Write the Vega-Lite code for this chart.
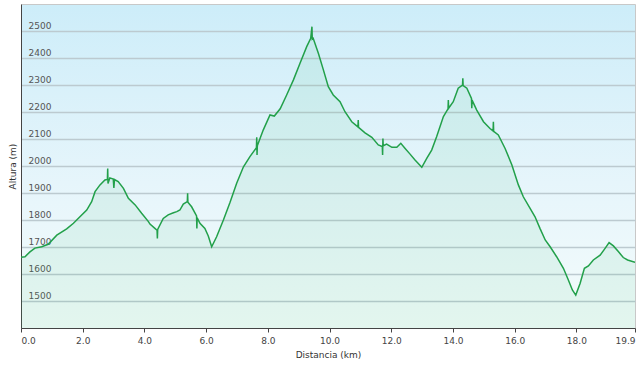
{
  "$schema": "https://vega.github.io/schema/vega-lite/v6.json",
  "width": 614,
  "height": 324,
  "autosize": "none",
  "padding": {"left": 21, "top": 4, "right": 5, "bottom": 39},
  "background": "white",
  "config": {
    "view": {
      "stroke": "#c8c8c8",
      "strokeWidth": 1,
      "fill": {
        "gradient": "linear", "x1": 0, "y1": 0, "x2": 0, "y2": 1,
        "stops": [
          {"offset": 0, "color": "#cdedf9"},
          {"offset": 0.55, "color": "#e6f5fb"},
          {"offset": 1, "color": "#f4fcfb"}
        ]
      }
    },
    "font": "DejaVu Sans"
  },
  "datasets": {
    "perfil": [
      {"km": 0.00, "alt": 1662}, {"km": 0.13, "alt": 1664}, {"km": 0.29, "alt": 1682}, {"km": 0.45, "alt": 1696},
      {"km": 0.67, "alt": 1701}, {"km": 0.88, "alt": 1710}, {"km": 1.16, "alt": 1744}, {"km": 1.48, "alt": 1767},
      {"km": 1.70, "alt": 1788}, {"km": 1.91, "alt": 1812}, {"km": 2.13, "alt": 1837}, {"km": 2.29, "alt": 1868},
      {"km": 2.40, "alt": 1905}, {"km": 2.56, "alt": 1930}, {"km": 2.72, "alt": 1948}, {"km": 2.80, "alt": 1950},
      {"km": 2.81, "alt": 1991}, {"km": 2.82, "alt": 1935}, {"km": 2.88, "alt": 1956}, {"km": 2.99, "alt": 1952},
      {"km": 3.01, "alt": 1919}, {"km": 3.03, "alt": 1950}, {"km": 3.15, "alt": 1942}, {"km": 3.32, "alt": 1917},
      {"km": 3.48, "alt": 1880}, {"km": 3.70, "alt": 1856}, {"km": 3.91, "alt": 1825}, {"km": 4.13, "alt": 1794},
      {"km": 4.18, "alt": 1785}, {"km": 4.34, "alt": 1769}, {"km": 4.41, "alt": 1762}, {"km": 4.42, "alt": 1732},
      {"km": 4.43, "alt": 1765}, {"km": 4.61, "alt": 1806}, {"km": 4.77, "alt": 1819}, {"km": 4.94, "alt": 1827},
      {"km": 5.05, "alt": 1831}, {"km": 5.15, "alt": 1837}, {"km": 5.26, "alt": 1859}, {"km": 5.39, "alt": 1868},
      {"km": 5.40, "alt": 1899}, {"km": 5.41, "alt": 1866}, {"km": 5.53, "alt": 1849}, {"km": 5.69, "alt": 1815},
      {"km": 5.70, "alt": 1769}, {"km": 5.71, "alt": 1808}, {"km": 5.80, "alt": 1788}, {"km": 5.96, "alt": 1769},
      {"km": 6.07, "alt": 1741}, {"km": 6.18, "alt": 1701}, {"km": 6.34, "alt": 1738}, {"km": 6.56, "alt": 1800},
      {"km": 6.77, "alt": 1864}, {"km": 6.99, "alt": 1936}, {"km": 7.21, "alt": 1997}, {"km": 7.42, "alt": 2035},
      {"km": 7.63, "alt": 2068}, {"km": 7.64, "alt": 2106}, {"km": 7.65, "alt": 2041}, {"km": 7.66, "alt": 2075},
      {"km": 7.85, "alt": 2133}, {"km": 8.07, "alt": 2189}, {"km": 8.21, "alt": 2185}, {"km": 8.40, "alt": 2212},
      {"km": 8.61, "alt": 2263}, {"km": 8.83, "alt": 2319}, {"km": 9.04, "alt": 2380}, {"km": 9.26, "alt": 2442},
      {"km": 9.39, "alt": 2473}, {"km": 9.43, "alt": 2516}, {"km": 9.44, "alt": 2470}, {"km": 9.47, "alt": 2473},
      {"km": 9.64, "alt": 2417}, {"km": 9.80, "alt": 2356}, {"km": 9.96, "alt": 2294}, {"km": 10.12, "alt": 2263},
      {"km": 10.34, "alt": 2238}, {"km": 10.50, "alt": 2201}, {"km": 10.72, "alt": 2164}, {"km": 10.92, "alt": 2145},
      {"km": 10.93, "alt": 2170}, {"km": 10.94, "alt": 2143}, {"km": 11.15, "alt": 2123}, {"km": 11.37, "alt": 2106},
      {"km": 11.58, "alt": 2078}, {"km": 11.71, "alt": 2072}, {"km": 11.72, "alt": 2041}, {"km": 11.73, "alt": 2102},
      {"km": 11.74, "alt": 2075}, {"km": 11.85, "alt": 2081}, {"km": 12.02, "alt": 2069}, {"km": 12.18, "alt": 2069},
      {"km": 12.31, "alt": 2084}, {"km": 12.45, "alt": 2065}, {"km": 12.61, "alt": 2044}, {"km": 12.77, "alt": 2022},
      {"km": 12.99, "alt": 1995}, {"km": 13.15, "alt": 2028}, {"km": 13.31, "alt": 2059}, {"km": 13.47, "alt": 2108},
      {"km": 13.69, "alt": 2183}, {"km": 13.84, "alt": 2212}, {"km": 13.85, "alt": 2244}, {"km": 13.86, "alt": 2214},
      {"km": 14.01, "alt": 2238}, {"km": 14.17, "alt": 2288}, {"km": 14.31, "alt": 2300}, {"km": 14.32, "alt": 2325},
      {"km": 14.33, "alt": 2298}, {"km": 14.45, "alt": 2288}, {"km": 14.60, "alt": 2250}, {"km": 14.61, "alt": 2214},
      {"km": 14.62, "alt": 2244}, {"km": 14.77, "alt": 2207}, {"km": 14.99, "alt": 2164}, {"km": 15.20, "alt": 2139},
      {"km": 15.30, "alt": 2130}, {"km": 15.31, "alt": 2164}, {"km": 15.32, "alt": 2128}, {"km": 15.47, "alt": 2115},
      {"km": 15.69, "alt": 2065}, {"km": 15.91, "alt": 2004}, {"km": 16.12, "alt": 1930}, {"km": 16.28, "alt": 1886},
      {"km": 16.50, "alt": 1843}, {"km": 16.66, "alt": 1812}, {"km": 16.82, "alt": 1769}, {"km": 16.99, "alt": 1726},
      {"km": 17.15, "alt": 1701}, {"km": 17.36, "alt": 1664}, {"km": 17.58, "alt": 1621}, {"km": 17.74, "alt": 1578},
      {"km": 17.87, "alt": 1541}, {"km": 17.98, "alt": 1522}, {"km": 18.12, "alt": 1565}, {"km": 18.26, "alt": 1621},
      {"km": 18.39, "alt": 1630}, {"km": 18.55, "alt": 1652}, {"km": 18.77, "alt": 1670}, {"km": 18.93, "alt": 1695},
      {"km": 19.06, "alt": 1716}, {"km": 19.20, "alt": 1704}, {"km": 19.36, "alt": 1683}, {"km": 19.52, "alt": 1661},
      {"km": 19.66, "alt": 1652}, {"km": 19.90, "alt": 1643}
    ]
  },
  "data": {"name": "perfil"},
  "encoding": {
    "x": {
      "field": "km", "type": "quantitative",
      "title": "Distancia  (km)",
      "scale": {"domain": [0, 19.9], "nice": false, "zero": false},
      "axis": {
        "values": [0, 2, 4, 6, 8, 10, 12, 14, 16, 18, 19.9],
        "format": ".1f",
        "grid": false,
        "domainColor": "#444444",
        "tickColor": "#444444",
        "tickSize": 4,
        "labelColor": "#444444",
        "labelFontSize": 9,
        "labelPadding": 4,
        "labelFlush": true,
        "titleFontSize": 9,
        "titleFontWeight": "normal",
        "titleColor": "#333333",
        "titlePadding": 5
      }
    },
    "y": {
      "field": "alt", "type": "quantitative",
      "title": "Altura (m)",
      "scale": {"domain": [1400, 2600], "nice": false, "zero": false},
      "axis": {
        "values": [1500, 1600, 1700, 1800, 1900, 2000, 2100, 2200, 2300, 2400, 2500],
        "format": "d",
        "grid": true,
        "gridColor": "#bccad0",
        "gridWidth": 1.3,
        "ticks": false,
        "domainColor": "#444444",
        "labelAlign": "left",
        "labelBaseline": "bottom",
        "labelPadding": -7,
        "labelOffset": -1,
        "labelColor": "#555555",
        "labelFontSize": 9,
        "titleFontSize": 9,
        "titleFontWeight": "normal",
        "titleColor": "#333333",
        "titleX": -9,
        "titleY": 162,
        "titleAngle": 270,
        "titleBaseline": "middle",
        "titleAlign": "center"
      }
    }
  },
  "layer": [
    {"mark": {"type": "area", "color": "#3cc070", "opacity": 0.09, "clip": true}},
    {"mark": {"type": "line", "color": "#22a04a", "strokeWidth": 1.5, "clip": true}}
  ]
}
